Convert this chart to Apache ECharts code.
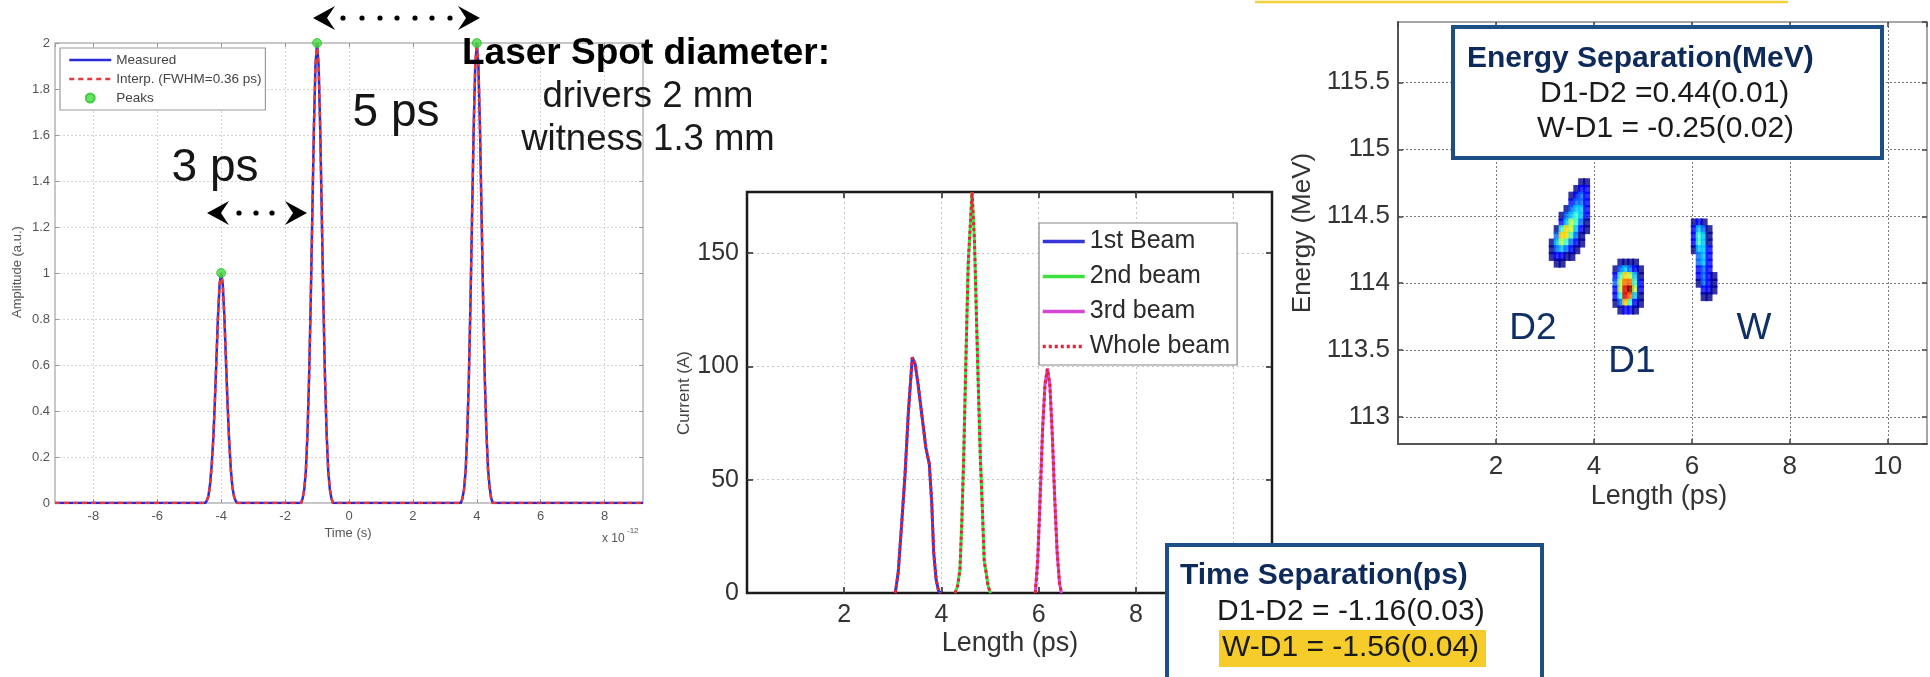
<!DOCTYPE html>
<html>
<head>
<meta charset="utf-8">
<title>Three-pulse beam measurements</title>
<script src="https://cdn.jsdelivr.net/npm/echarts@6/dist/echarts.min.js"></script>
<style>
  html, body { margin: 0; padding: 0; background: #fff; }
  #chart { width: 1930px; height: 677px; }
</style>
</head>
<body>
<div id="chart"></div>
<script>
// ---------- left panel: laser pulse train (time in units of 1e-12 s)
const pulseTime = [
  -9.2, -4.5,
  -4.45, -4.4, -4.35, -4.3, -4.25, -4.2, -4.15, -4.1, -4.05, -4, -3.95, -3.9, -3.85, -3.8, -3.75, -3.7, -3.65, -3.6, -3.55,
  -3.5, -1.5,
  -1.45, -1.4, -1.35, -1.3, -1.25, -1.2, -1.15, -1.1, -1.05, -1, -0.95, -0.9, -0.85, -0.8, -0.75, -0.7, -0.65, -0.6, -0.55,
  -0.5, 3.5,
  3.55, 3.6, 3.65, 3.7, 3.75, 3.8, 3.85, 3.9, 3.95, 4, 4.05, 4.1, 4.15, 4.2, 4.25, 4.3, 4.35, 4.4, 4.45,
  4.5, 9.2
]
const pulseMeasured = [
  0, 0,
  0.01, 0.03, 0.08, 0.16, 0.27, 0.43, 0.62, 0.81, 0.95, 1, 0.95, 0.81, 0.62, 0.43, 0.27, 0.15, 0.07, 0.03, 0.01,
  0, 0,
  0.02, 0.06, 0.14, 0.3, 0.54, 0.86, 1.24, 1.62, 1.9, 2, 1.9, 1.62, 1.24, 0.86, 0.54, 0.3, 0.14, 0.06, 0.02,
  0, 0,
  0.02, 0.06, 0.14, 0.3, 0.54, 0.86, 1.24, 1.62, 1.9, 2, 1.9, 1.62, 1.24, 0.86, 0.54, 0.31, 0.15, 0.07, 0.02,
  0, 0
]
const pulseInterp = [
  0, 0,
  0.01, 0.03, 0.07, 0.15, 0.27, 0.43, 0.62, 0.81, 0.95, 1, 0.95, 0.81, 0.62, 0.43, 0.27, 0.15, 0.07, 0.03, 0.01,
  0, 0,
  0.02, 0.06, 0.14, 0.3, 0.54, 0.86, 1.24, 1.62, 1.9, 2, 1.9, 1.62, 1.24, 0.86, 0.54, 0.3, 0.14, 0.06, 0.02,
  0, 0,
  0.02, 0.06, 0.14, 0.3, 0.54, 0.86, 1.24, 1.62, 1.9, 2, 1.9, 1.62, 1.24, 0.86, 0.54, 0.3, 0.14, 0.06, 0.02,
  0, 0
]
const peakTime = [-4, -1, 4]
const peakAmp = [1, 2, 2]

// ---------- middle panel: current profile (length in ps, current in A)
const beam1Len = [3.05, 3.11, 3.18, 3.25, 3.32, 3.4, 3.46, 3.52, 3.6, 3.68, 3.75, 3.8, 3.84, 3.89, 3.94, 3.98]
const beam1Cur = [0, 9, 30, 52, 80, 104, 101, 92, 78, 64, 57, 40, 18, 6, 1, 0]
const beam2Len = [4.28, 4.33, 4.38, 4.42, 4.46, 4.5, 4.55, 4.63, 4.68, 4.72, 4.76, 4.8, 4.84, 4.88, 4.92, 4.96, 5.01]
const beam2Cur = [0, 3, 10, 32, 62, 100, 145, 177, 155, 122, 90, 60, 38, 14, 9, 3, 0]
const beam3Len = [5.93, 5.98, 6.03, 6.08, 6.13, 6.18, 6.23, 6.28, 6.33, 6.38, 6.43, 6.47]
const beam3Cur = [0, 14, 42, 72, 92, 99, 92, 70, 42, 18, 4, 0]

// ---------- right panel: longitudinal phase space
// each row: [energy MeV, first length ps, intensity per 0.1 ps step ...]
const d2Rows = [
  [114.75, 3.75, 1, 1],
  [114.70, 3.65, 1, 2, 2],
  [114.65, 3.55, 1, 2, 3, 2],
  [114.60, 3.55, 2, 3, 3, 2],
  [114.55, 3.45, 1, 3, 4, 4, 2],
  [114.50, 3.35, 1, 3, 4, 5, 4, 2],
  [114.45, 3.35, 2, 4, 6, 5, 3, 1],
  [114.40, 3.25, 1, 5, 7, 6, 4, 2, 1],
  [114.35, 3.25, 3, 7, 7, 5, 3, 1],
  [114.30, 3.15, 1, 4, 6, 5, 3, 2, 1],
  [114.25, 3.15, 1, 3, 4, 3, 2, 1],
  [114.20, 3.15, 1, 2, 2, 1, 1],
  [114.15, 3.25, 1, 1]
]
const d1Rows = [
  [114.15, 4.55, 1, 1, 1, 1],
  [114.10, 4.45, 1, 3, 4, 3, 2, 1],
  [114.05, 4.45, 2, 5, 7, 6, 4, 1],
  [114.00, 4.45, 3, 6, 8, 8, 5, 2],
  [113.95, 4.45, 2, 6, 9, 10, 6, 2],
  [113.90, 4.45, 2, 5, 9, 8, 4, 1],
  [113.85, 4.45, 1, 3, 7, 5, 2, 1],
  [113.80, 4.55, 1, 2, 2, 1]
]
const wRows = [
  [114.45, 6.05, 1, 2, 1],
  [114.40, 6.05, 2, 4, 3, 1],
  [114.35, 6.05, 2, 5, 4, 1],
  [114.30, 6.05, 2, 5, 4, 1],
  [114.25, 6.05, 1, 4, 4, 2],
  [114.20, 6.15, 3, 4, 2],
  [114.15, 6.15, 3, 4, 2],
  [114.10, 6.15, 2, 3, 2],
  [114.05, 6.15, 2, 3, 2, 1],
  [114.00, 6.15, 1, 3, 2, 1],
  [113.95, 6.25, 2, 2, 1],
  [113.90, 6.25, 1, 1]
]
const cellStep = 0.1

const FONT = '"Liberation Sans", Arial, Helvetica, sans-serif'

function zip(xs, ys) {
  return xs.map((x, i) => [x, ys[i]])
}

function cellsFrom(rows) {
  const out = []
  rows.forEach(r => {
    for (let i = 2; i < r.length; i++) {
      out.push([+(r[1] + (i - 2) * cellStep).toFixed(2), r[0], r[i]])
    }
  })
  return out
}

// whole beam is the sum of the three bunches, drawn with breaks between them
const wholeBeam = zip(beam1Len, beam1Cur)
  .concat([[4.1, '-']], zip(beam2Len, beam2Cur))
  .concat([[5.5, '-']], zip(beam3Len, beam3Cur))

// copy of an axis on the opposite side, only for the inward ticks
function mirror(axis, position) {
  return Object.assign({}, axis, {
    position: position,
    axisLine: { show: false, onZero: false },
    axisLabel: { show: false },
    splitLine: { show: false }
  })
}

// ---------- axes
const leftX = {
  type: 'value', gridIndex: 0, min: -9.2, max: 9.2, splitNumber: 9,
  axisLine: { show: false, onZero: false },
  axisTick: { inside: true, length: 4, lineStyle: { color: '#999' } },
  axisLabel: { color: '#555', fontSize: 13, margin: 7, fontFamily: FONT, showMinLabel: false, showMaxLabel: false },
  splitLine: { show: true, showMinLine: false, showMaxLine: false, lineStyle: { color: '#d4d4d4', type: [2, 2] } }
}
const leftY = {
  type: 'value', gridIndex: 0, min: 0, max: 2, interval: 0.2,
  axisLine: { show: false, onZero: false },
  axisTick: { inside: true, length: 4, lineStyle: { color: '#999' } },
  axisLabel: { color: '#555', fontSize: 13, margin: 5, fontFamily: FONT },
  splitLine: { show: true, showMinLine: false, showMaxLine: false, lineStyle: { color: '#d4d4d4', type: [2, 2] } }
}
const midX = {
  type: 'value', gridIndex: 1, min: 0, max: 10.8, interval: 2,
  axisLine: { show: false, onZero: false },
  axisTick: { inside: true, length: 6, lineStyle: { color: '#222', width: 1.5 } },
  axisLabel: { color: '#333', fontSize: 25, margin: 10, fontFamily: FONT, showMinLabel: false, showMaxLabel: false },
  splitLine: { show: true, showMinLine: false, showMaxLine: false, lineStyle: { color: '#c4c4c4', type: [2, 3] } }
}
const midY = {
  type: 'value', gridIndex: 1, min: 0, max: 177, interval: 50,
  axisLine: { show: false, onZero: false },
  axisTick: { inside: true, length: 6, lineStyle: { color: '#222', width: 1.5 } },
  axisLabel: { color: '#333', fontSize: 25, margin: 8, fontFamily: FONT, showMaxLabel: false },
  splitLine: { show: true, showMinLine: false, showMaxLine: false, lineStyle: { color: '#c4c4c4', type: [2, 3] } }
}
const rightX = {
  type: 'value', gridIndex: 2, min: 0, max: 10.8, interval: 2,
  axisLine: { show: true, onZero: false, lineStyle: { color: '#555', width: 2 } },
  axisTick: { inside: true, length: 5, lineStyle: { color: '#444', width: 1.5 } },
  axisLabel: { color: '#333', fontSize: 26, margin: 10, fontFamily: FONT, showMinLabel: false, showMaxLabel: false },
  splitLine: { show: true, showMinLine: false, showMaxLine: false, lineStyle: { color: '#7a7a7a', type: [2, 2] } }
}
const rightY = {
  type: 'value', gridIndex: 2, min: 112.8, max: 115.95, splitNumber: 6,
  axisLine: { show: true, onZero: false, lineStyle: { color: '#555', width: 2 } },
  axisTick: { inside: true, length: 5, lineStyle: { color: '#444', width: 1.5 } },
  axisLabel: { color: '#333', fontSize: 26, margin: 8, fontFamily: FONT, showMinLabel: false, showMaxLabel: false },
  splitLine: { show: true, showMinLine: false, showMaxLine: false, lineStyle: { color: '#7a7a7a', type: [2, 2] } }
}

// ---------- annotation helpers
function dotArrow(xLeft, xRight, y, dots) {
  const els = [
    { type: 'polygon', z: 100, shape: { points: [[xLeft, y], [xLeft + 22, y - 12], [xLeft + 14, y], [xLeft + 22, y + 12]] }, style: { fill: '#000' } },
    { type: 'polygon', z: 100, shape: { points: [[xRight, y], [xRight - 22, y - 12], [xRight - 14, y], [xRight - 22, y + 12]] }, style: { fill: '#000' } }
  ]
  dots.forEach(d => {
    els.push({ type: 'circle', z: 100, shape: { cx: d, cy: y, r: 2.6 }, style: { fill: '#000' } })
  })
  return els
}

function txt(text, x, y, font, fill, align, rotation) {
  return {
    type: 'text', z: 110, x: x, y: y, rotation: rotation || 0,
    style: {
      text: text, font: font, fill: fill,
      textAlign: align || 'left', textVerticalAlign: 'middle',
      align: align || 'left', verticalAlign: 'middle'
    }
  }
}

const graphics = [
  { type: 'line', z: 100, shape: { x1: 1255, y1: 2, x2: 1788, y2: 2 }, style: { stroke: '#f6d23a', lineWidth: 2.5 } },

  // left panel axis titles
  txt('Amplitude (a.u.)', 17, 272, '13px ' + FONT, '#555', 'center', Math.PI / 2),
  txt('Time (s)', 348, 533, '13px ' + FONT, '#555', 'center'),
  txt('x 10', 602, 539, '12px ' + FONT, '#555', 'left'),
  txt('-12', 627, 531, '8px ' + FONT, '#555', 'left'),

  // overlay notes
  txt('3 ps', 215, 168, '46px ' + FONT, '#151515', 'center'),
  txt('5 ps', 396, 113, '46px ' + FONT, '#151515', 'center'),
  txt('Laser Spot diameter:', 462, 54, 'bold 37px ' + FONT, '#000', 'left'),
  txt('drivers 2 mm', 648, 97, '36.5px ' + FONT, '#1a1a1a', 'center'),
  txt('witness 1.3 mm', 648, 140, '36.5px ' + FONT, '#1a1a1a', 'center'),

  // middle panel axis titles
  txt('Current (A)', 684, 393, '17px ' + FONT, '#444', 'center', Math.PI / 2),
  txt('Length (ps)', 1010, 644, '27px ' + FONT, '#333', 'center'),

  // right panel axis titles
  txt('Energy (MeV)', 1303, 233, '26px ' + FONT, '#333', 'center', Math.PI / 2),
  txt('Length (ps)', 1659, 497, '27px ' + FONT, '#333', 'center'),

  // bunch labels
  txt('D2', 1533, 329, '37px ' + FONT, '#0f2f66', 'center'),
  txt('D1', 1632, 362, '37px ' + FONT, '#0f2f66', 'center'),
  txt('W', 1754, 329, '37px ' + FONT, '#0f2f66', 'center'),

  // energy separation box
  { type: 'rect', z: 100, shape: { x: 1453, y: 27, width: 429, height: 131 }, style: { fill: '#fff', stroke: '#1d4e85', lineWidth: 4 } },
  txt('Energy Separation(MeV)', 1467, 59, 'bold 30px ' + FONT, '#0e2a5a', 'left'),
  txt('D1-D2 =0.44(0.01)', 1540, 94, '30px ' + FONT, '#1a1a1a', 'left'),
  txt('W-D1 = -0.25(0.02)', 1537, 129, '30px ' + FONT, '#1a1a1a', 'left'),

  // time separation box
  { type: 'rect', z: 100, shape: { x: 1167, y: 545, width: 375, height: 140 }, style: { fill: '#fff', stroke: '#1d4e85', lineWidth: 4 } },
  { type: 'rect', z: 105, shape: { x: 1219, y: 630, width: 267, height: 37 }, style: { fill: '#f5cc2a' } },
  txt('Time Separation(ps)', 1180, 576, 'bold 30px ' + FONT, '#0e2a5a', 'left'),
  txt('D1-D2 = -1.16(0.03)', 1217, 612, '30px ' + FONT, '#1a1a1a', 'left'),
  txt('W-D1 = -1.56(0.04)', 1222, 648, '30px ' + FONT, '#1a1a1a', 'left')
]
  .concat(dotArrow(313, 480, 18, [343, 362, 380, 397, 415, 432, 450]))
  .concat(dotArrow(207, 307, 213, [239, 256, 272]))

// legend entries for line series show only the line
const noMarker = { opacity: 0 }

const option = {
  animation: false,
  backgroundColor: '#fff',
  textStyle: { fontFamily: FONT },
  grid: [
    { left: 55, top: 43, width: 588, height: 460, show: true, borderColor: '#b5b5b5', borderWidth: 1.5, outerBoundsMode: 'none' },
    { left: 747, top: 192, width: 525, height: 401, show: true, borderColor: '#1a1a1a', borderWidth: 2.5, outerBoundsMode: 'none' },
    { left: 1398, top: 22, width: 529, height: 422, show: true, borderColor: '#8a8a8a', borderWidth: 1.5, outerBoundsMode: 'none' }
  ],
  xAxis: [leftX, mirror(leftX, 'top'), midX, mirror(midX, 'top'), rightX, mirror(rightX, 'top')],
  yAxis: [leftY, mirror(leftY, 'right'), midY, mirror(midY, 'right'), rightY, mirror(rightY, 'right')],
  legend: [
    {
      data: [
        { name: 'Measured', itemStyle: noMarker, lineStyle: { width: 2.5 } },
        { name: 'Interp. (FWHM=0.36 ps)', itemStyle: noMarker, lineStyle: { width: 2.5 } },
        { name: 'Peaks', icon: 'circle' }
      ],
      orient: 'vertical', left: 60, top: 48,
      itemWidth: 42, itemHeight: 9, itemGap: 5,
      padding: [5, 4, 5, 8],
      backgroundColor: '#fff', borderColor: '#9a9a9a', borderWidth: 1.2,
      textStyle: { color: '#444', fontSize: 13.5, lineHeight: 13, fontFamily: FONT },
      selectedMode: false
    },
    {
      data: [
        { name: '1st Beam', itemStyle: noMarker, lineStyle: { width: 3.5 } },
        { name: '2nd beam', itemStyle: noMarker, lineStyle: { width: 3.5 } },
        { name: '3rd beam', itemStyle: noMarker, lineStyle: { width: 3.5 } },
        { name: 'Whole beam', itemStyle: noMarker, lineStyle: { width: 3.5 } }
      ],
      orient: 'vertical', left: 1039, top: 223,
      itemWidth: 42, itemHeight: 14, itemGap: 10,
      padding: [6, 7, 6, 2],
      backgroundColor: '#fff', borderColor: '#888', borderWidth: 1.2,
      textStyle: { color: '#2a2a2a', fontSize: 25, lineHeight: 25, fontFamily: FONT },
      selectedMode: false
    }
  ],
  visualMap: [{
    type: 'continuous', show: false, seriesIndex: 7, dimension: 2, min: 1, max: 10,
    inRange: { color: ['#00008f', '#0000ff', '#0068ff', '#00c4ff', '#3affd0', '#b8ff48', '#ffd400', '#ff6a00', '#e00000', '#7a0000'] }
  }],
  series: [
    {
      name: 'Measured', type: 'line', xAxisIndex: 0, yAxisIndex: 0,
      data: zip(pulseTime, pulseMeasured), symbol: 'none',
      lineStyle: { color: '#2a2ad6', width: 2.5 }, itemStyle: { color: '#2a2ad6' }
    },
    {
      name: 'Interp. (FWHM=0.36 ps)', type: 'line', xAxisIndex: 0, yAxisIndex: 0,
      data: zip(pulseTime, pulseInterp), symbol: 'none',
      lineStyle: { color: '#e63a3a', width: 2.5, type: [5, 4] }, itemStyle: { color: '#e63a3a' }
    },
    {
      name: 'Peaks', type: 'scatter', xAxisIndex: 0, yAxisIndex: 0,
      data: zip(peakTime, peakAmp), symbol: 'circle', symbolSize: 9, clip: false, z: 5,
      itemStyle: { color: '#3fdc3f', borderColor: '#2fbf2f', borderWidth: 1 }
    },
    {
      name: '1st Beam', type: 'line', xAxisIndex: 2, yAxisIndex: 2,
      data: zip(beam1Len, beam1Cur), symbol: 'none',
      lineStyle: { color: '#3535d8', width: 3 }, itemStyle: { color: '#3535d8' }
    },
    {
      name: '2nd beam', type: 'line', xAxisIndex: 2, yAxisIndex: 2,
      data: zip(beam2Len, beam2Cur), symbol: 'none',
      lineStyle: { color: '#3ee03e', width: 3 }, itemStyle: { color: '#3ee03e' }
    },
    {
      name: '3rd beam', type: 'line', xAxisIndex: 2, yAxisIndex: 2,
      data: zip(beam3Len, beam3Cur), symbol: 'none',
      lineStyle: { color: '#d447d4', width: 3 }, itemStyle: { color: '#d447d4' }
    },
    {
      name: 'Whole beam', type: 'line', xAxisIndex: 2, yAxisIndex: 2,
      data: wholeBeam, symbol: 'none', connectNulls: false,
      lineStyle: { color: '#e8203a', width: 3, type: [3, 3] }, itemStyle: { color: '#e8203a' }
    },
    {
      name: 'Bunches', type: 'scatter', xAxisIndex: 4, yAxisIndex: 4,
      data: cellsFrom(d2Rows).concat(cellsFrom(d1Rows), cellsFrom(wRows)),
      symbol: 'rect', symbolSize: [7, 9]
    }
  ],
  graphic: { elements: graphics }
}

const chart = echarts.init(document.getElementById('chart'), null, { renderer: 'canvas' })
chart.setOption(option)
</script>
</body>
</html>
